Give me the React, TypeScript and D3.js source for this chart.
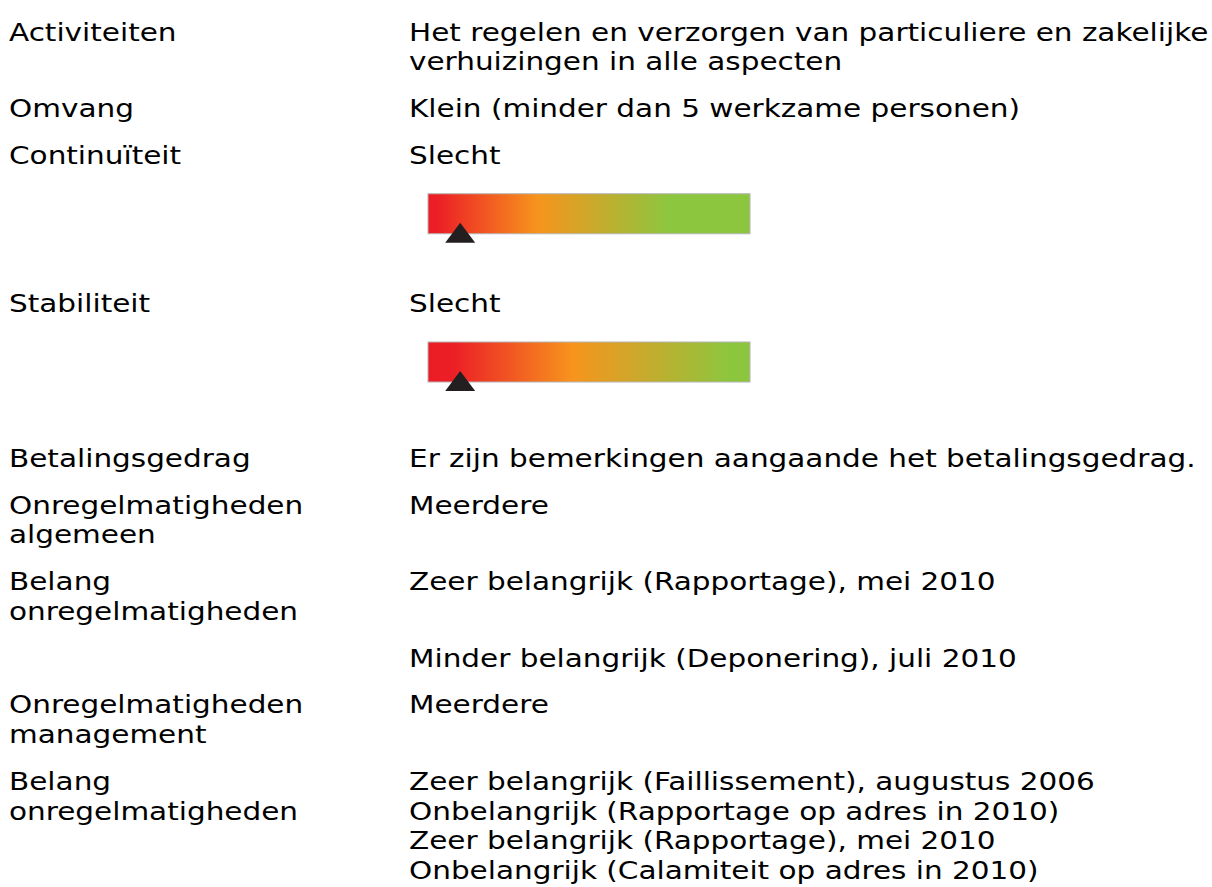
import React from "react";
import * as d3 from "d3";

// rows of the report: label (may wrap) and value lines
const labels = [
  ["Activiteiten"],
  ["Omvang"],
  ["Continuïteit"],
  ["Stabiliteit"],
  ["Betalingsgedrag"],
  ["Onregelmatigheden", "algemeen"],
  ["Belang", "onregelmatigheden"],
  [],
  ["Onregelmatigheden", "management"],
  ["Belang", "onregelmatigheden"],
];

const values = [
  ["Het regelen en verzorgen van particuliere en zakelijke", "verhuizingen in alle aspecten"],
  ["Klein (minder dan 5 werkzame personen)"],
  ["Slecht"],
  ["Slecht"],
  ["Er zijn bemerkingen aangaande het betalingsgedrag."],
  ["Meerdere"],
  ["Zeer belangrijk (Rapportage), mei 2010"],
  ["Minder belangrijk (Deponering), juli 2010"],
  ["Meerdere"],
  [
    "Zeer belangrijk (Faillissement), augustus 2006",
    "Onbelangrijk (Rapportage op adres in 2010)",
    "Zeer belangrijk (Rapportage), mei 2010",
    "Onbelangrijk (Calamiteit op adres in 2010)",
  ],
];

// score bars (0-100) shown under a row
const scoreRows = [2, 3];
const scores = [10, 10];
const gradientStops = [
  [[0, "#ec1c24"], [0.03, "#ec1f26"], [0.34, "#f7941d"], [0.75, "#8cc63f"], [1, "#8cc63f"]],
  [[0, "#ec1c24"], [0.08, "#ec1f26"], [0.45, "#f7941d"], [0.94, "#8cc63f"], [1, "#8cc63f"]],
];

const W = 1212;
const H = 887;
const fontSize = 25;
const stretchX = 1.18; // the source image is stretched horizontally
const lineH = 29.75;
const rowGap = 17;
const barBlock = [101.5, 108];
const leftX = 9;
const rightX = 409;

export default function App() {
  const x = d3.scaleLinear().domain([0, 100]).range([428, 750]);
  const barH = 40;

  // baseline of each row
  let y = 40.5;
  const rowY: number[] = [];
  labels.forEach((lab, i) => {
    rowY.push(y);
    const n = Math.max(lab.length, values[i].length, 1);
    y += n * lineH + rowGap;
    const b = scoreRows.indexOf(i);
    if (b >= 0) y += barBlock[b];
  });

  const txt = (t: string, tx: number, ty: number, key: string) => (
    <text key={key} transform={`translate(${tx},${ty}) scale(${stretchX},1)`} fill="#000">
      {t}
    </text>
  );

  return (
    <svg
      width={W}
      height={H}
      style={{ position: "absolute", left: 0, top: 0, background: "#fff" }}
      fontFamily="DejaVu Sans"
      fontSize={fontSize}
    >
      <defs>
        {gradientStops.map((stops, k) => (
          <linearGradient key={k} id={"grad" + k} x1="0" x2="1" y1="0" y2="0">
            {stops.map((s, j) => (
              <stop key={j} offset={s[0] as number} stopColor={s[1] as string} />
            ))}
          </linearGradient>
        ))}
      </defs>
      {labels.map((lab, i) => (
        <g key={i}>
          {lab.map((t, j) => txt(t, leftX, rowY[i] + j * lineH, "l" + j))}
          {values[i].map((t, j) => txt(t, rightX, rowY[i] + j * lineH, "v" + j))}
        </g>
      ))}
      {scoreRows.map((r, k) => {
        const top = rowY[r] + 30;
        const px = x(scores[k]);
        const tri = d3.path();
        tri.moveTo(px, top + barH - 11);
        tri.lineTo(px + 15, top + barH + 9);
        tri.lineTo(px - 15, top + barH + 9);
        tri.closePath();
        return (
          <g key={"bar" + k}>
            <rect
              x={x(0)}
              y={top}
              width={x(100) - x(0)}
              height={barH}
              fill={`url(#grad${k})`}
              stroke="#b4b4b4"
              strokeWidth={1}
            />
            <path d={tri.toString()} fill="#231f20" />
          </g>
        );
      })}
    </svg>
  );
}
